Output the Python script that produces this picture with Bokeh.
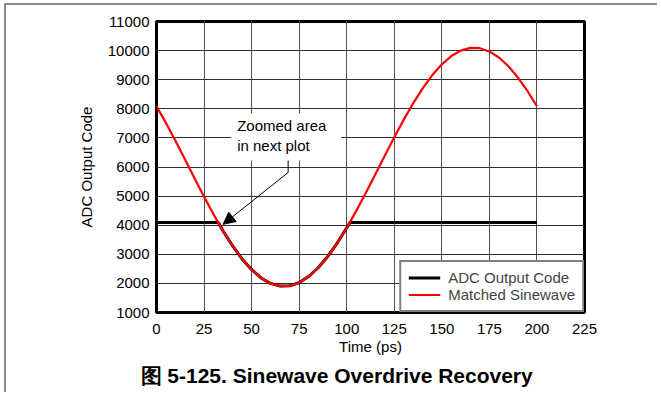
from bokeh.plotting import figure
from bokeh.models import Range1d, FixedTicker, Label, Arrow, NormalHead, BoxAnnotation, Legend, LegendItem, Title
from bokeh.embed import file_html
from bokeh.resources import INLINE

# ---- data ----
time_ps = [0, 5, 10, 15, 20, 25, 30, 35, 40, 45, 50, 55, 60, 65, 70, 75, 80, 85, 90, 95,
           100, 105, 110, 115, 120, 125, 130, 135, 140, 145, 150, 155, 160, 165, 170, 175,
           180, 185, 190, 195, 200]
sine_code = [8087, 7509, 6894, 6257, 5614, 4980, 4372, 3803, 3289, 2841, 2471, 2188, 1999,
             1908, 1918, 2029, 2237, 2538, 2925, 3387, 3913, 4491, 5106, 5743, 6386, 7020,
             7628, 8197, 8711, 9159, 9529, 9812, 10001, 10092, 10082, 9971, 9763, 9462,
             9075, 8613, 8087]
adc_time = [0, 32.5, 35, 40, 45, 50, 55, 60, 65, 70, 75, 80, 85, 90, 95, 100, 101.8, 200]
adc_code = [4095, 4095, 3803, 3289, 2841, 2471, 2188, 1999, 1908, 1918, 2029, 2237, 2538,
            2925, 3387, 3913, 4095, 4095]
x_ticks = [0, 25, 50, 75, 100, 125, 150, 175, 200, 225]
y_ticks = [1000, 2000, 3000, 4000, 5000, 6000, 7000, 8000, 9000, 10000, 11000]
series_names = ["ADC Output Code", "Matched Sinewave"]
x_label = "Time (ps)"
y_label = "ADC Output Code"
caption = "图 5-125. Sinewave Overdrive Recovery"
note_text = "Zoomed area\nin next plot"
# annotation geometry (data units)
note_xy = (42.4, 7735)
note_box = (39.3, 97.0, 6223, 7838)
arrow_knee = (69.2, 6223, 5810)
arrow_tip = (35.0, 4030)

FONT = "Liberation Sans"

p = figure(width=653, height=389, output_backend="svg", toolbar_location=None,
           x_range=Range1d(0, 225), y_range=Range1d(1000, 11000),
           min_border_left=150, min_border_right=75, min_border_top=16, min_border_bottom=82)
p.styles = {"margin-left": "4px", "margin-top": "3px",
            "border-left": "2px solid #8a8a8a", "border-top": "2px solid #8a8a8a"}

p.outline_line_color = "black"
p.outline_line_width = 3
p.outline_line_alpha = 1
p.background_fill_color = "white"
p.border_fill_color = "white"

p.xaxis.ticker = FixedTicker(ticks=x_ticks)
p.yaxis.ticker = FixedTicker(ticks=y_ticks)
for ax in (p.xaxis[0], p.yaxis[0]):
    ax.axis_line_color = None
    ax.major_tick_line_color = None
    ax.minor_tick_line_color = None
    ax.major_tick_out = 0
    ax.major_tick_in = 0
    ax.major_label_text_font = FONT
    ax.major_label_text_font_size = "15px"
    ax.major_label_text_color = "black"
    ax.axis_label_text_font = FONT
    ax.axis_label_text_font_size = "15px"
    ax.axis_label_text_font_style = "normal"
    ax.axis_label_text_color = "black"
p.xaxis.major_label_standoff = 11
p.yaxis.major_label_standoff = 7
p.xaxis.axis_label = x_label
p.yaxis.axis_label = y_label
p.xaxis.axis_label_standoff = 1
p.yaxis.axis_label_standoff = 10

p.xgrid.grid_line_color = "#505050"
p.ygrid.grid_line_color = "#303030"
p.xgrid.grid_line_width = 1
p.ygrid.grid_line_width = 1

r_adc = p.line(adc_time, adc_code, line_color="black", line_width=3)
r_sin = p.line(time_ps, sine_code, line_color="#ff0000", line_width=2.2)

legend = Legend(items=[LegendItem(label=series_names[0], renderers=[r_adc]),
                       LegendItem(label=series_names[1], renderers=[r_sin])],
                location="bottom_right", margin=0, padding=7, spacing=0,
                glyph_width=32, glyph_height=15, label_height=15, label_standoff=8,
                label_text_font=FONT, label_text_font_size="15px",
                border_line_color="black", border_line_width=2.5,
                background_fill_alpha=1)
p.add_layout(legend)

box = BoxAnnotation(left=note_box[0], right=note_box[1], bottom=note_box[2], top=note_box[3],
                    fill_color="white", fill_alpha=1, line_color=None)
p.add_layout(box)
p.add_layout(Label(x=note_xy[0], y=note_xy[1], text=note_text, text_align="left",
                   text_baseline="top", text_font=FONT, text_font_size="15px",
                   text_line_height=1.2, text_color="black"))
p.add_layout(Arrow(end=None, x_start=arrow_knee[0], y_start=arrow_knee[1],
                   x_end=arrow_knee[0], y_end=arrow_knee[2], line_width=1, line_color="black"))
p.add_layout(Arrow(end=NormalHead(size=12, fill_color="black", line_color="black"),
                   x_start=arrow_knee[0], y_start=arrow_knee[2],
                   x_end=arrow_tip[0], y_end=arrow_tip[1], line_width=1, line_color="black"))

p.add_layout(Title(text=caption, align="left", offset=-16, standoff=9,
                   text_font=FONT, text_font_size="21px", text_font_style="bold",
                   text_color="black"), "below")

open("out.html", "w").write(file_html(p, INLINE))
